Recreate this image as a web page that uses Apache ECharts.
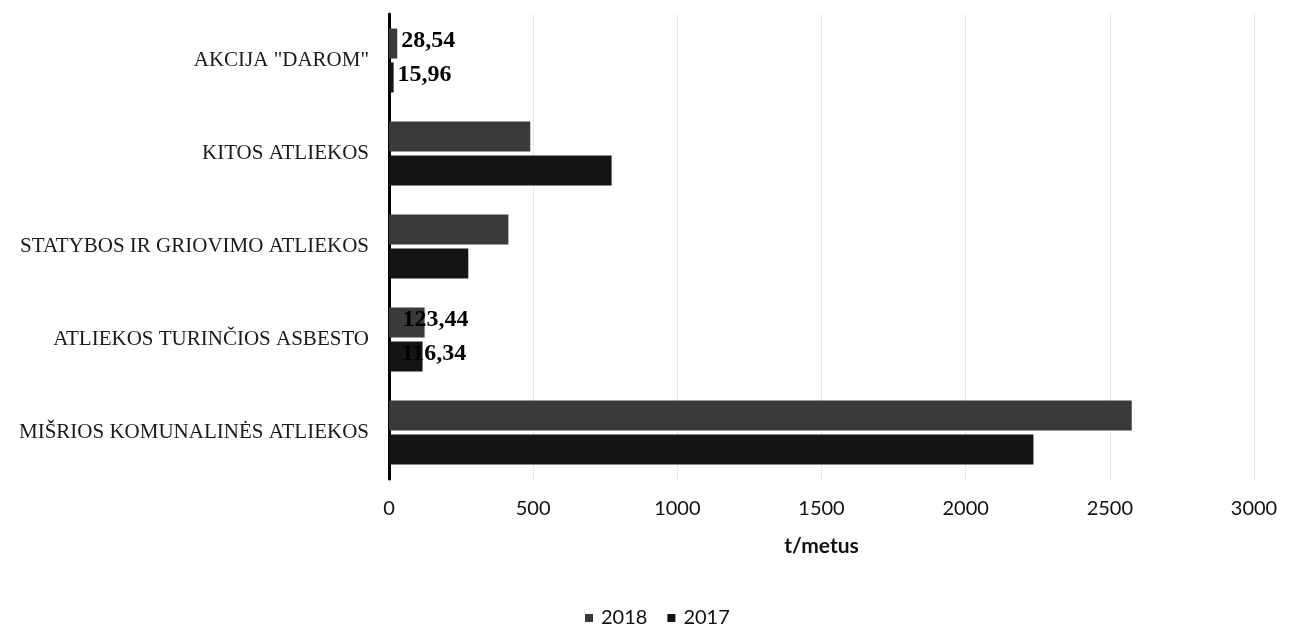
<!DOCTYPE html>
<html>
<head>
<meta charset="utf-8">
<script src="https://cdn.jsdelivr.net/npm/echarts@6/dist/echarts.min.js"></script>
<style>html,body{margin:0;padding:0;background:#fff;}#c{width:1295px;height:626px;}</style>
</head>
<body>
<div id="c"></div>
<script>
const categories = ['AKCIJA "DAROM"', 'KITOS ATLIEKOS', 'STATYBOS IR GRIOVIMO ATLIEKOS', 'ATLIEKOS TURINČIOS ASBESTO', 'MIŠRIOS KOMUNALINĖS ATLIEKOS'];
const seriesNames = ['2018', '2017'];
const values2018 = [28.54, 490, 414, 123.44, 2576];
const values2017 = [15.96, 772, 275, 116.34, 2235];
const labelled = [true, false, false, true, false];
const labelShift2018 = [0, 0, 0, -26, 0];
const labelShift2017 = [0, 0, 0, -25, 0];
const xTicks = [0, 500, 1000, 1500, 2000, 2500, 3000];

function fmt(v){ return v.toFixed(2).replace('.', ','); }

function buildData(vals, shifts){
  return vals.map((v, i) => ({
    value: v,
    label: {
      show: labelled[i],
      position: 'right',
      distance: 4,
      offset: [shifts[i], -3],
      formatter: () => fmt(v),
      fontFamily: 'Liberation Serif',
      fontWeight: 'bold',
      fontSize: 24,
      color: '#000'
    }
  }));
}

const chart = echarts.init(document.getElementById('c'));
chart.setOption({
  animation: false,
  backgroundColor: '#fff',
  grid: { left: 389, right: 41, top: 14, height: 465 },
  legend: {
    data: seriesNames,
    top: 603,
    left: 580,
    itemWidth: 8,
    itemHeight: 8,
    itemGap: 20,
    icon: 'rect',
    textStyle: { fontFamily: 'Lato', fontSize: 20, color: '#111', padding: [0, 0, 0, 3] }
  },
  xAxis: {
    type: 'value',
    min: xTicks[0],
    max: xTicks[xTicks.length - 1],
    interval: 500,
    name: 't/metus',
    nameLocation: 'middle',
    nameGap: 57,
    nameTextStyle: { fontFamily: 'Lato', fontWeight: 'bold', fontSize: 21, color: '#111' },
    axisLine: { show: false },
    axisTick: { show: false },
    axisLabel: {
      margin: 20,
      fontFamily: 'Lato',
      fontSize: 20,
      color: '#111',
      formatter: (v) => String(v)
    },
    splitLine: { show: true, lineStyle: { color: '#d0d0d0', type: 'dotted', width: 1 } }
  },
  yAxis: {
    type: 'category',
    data: categories,
    inverse: true,
    axisLine: { show: true, lineStyle: { color: '#000', width: 3 } },
    axisTick: { show: false },
    axisLabel: { margin: 20, fontFamily: 'Liberation Serif', fontSize: 21, color: '#1a1a1a' }
  },
  series: [
    {
      name: seriesNames[0],
      type: 'bar',
      barWidth: 30,
      barGap: '13%',
      itemStyle: { color: '#3a3a3a' },
      data: buildData(values2018, labelShift2018)
    },
    {
      name: seriesNames[1],
      type: 'bar',
      barWidth: 30,
      barGap: '13%',
      itemStyle: { color: '#141414' },
      data: buildData(values2017, labelShift2017)
    }
  ]
});
</script>
</body>
</html>
